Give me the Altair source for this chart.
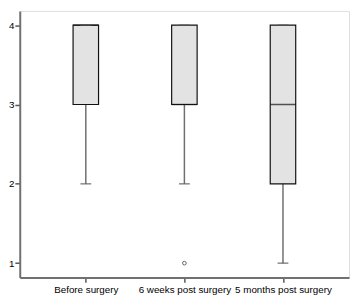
import altair as alt
import pandas as pd

categories = ["Before surgery", "6 weeks post surgery", "5 months post surgery"]
q1 = [3, 3, 2]
median = [4, 3, 3]
q3 = [4, 4, 4]
whisker_low = [2, 2, 1]
whisker_high = [4, 4, 4]
outlier_cat = ["6 weeks post surgery"]
outlier_val = [1]

df = pd.DataFrame({"cat": categories, "q1": q1, "median": median, "q3": q3,
                   "lo": whisker_low, "hi": whisker_high})
dfo = pd.DataFrame({"cat": outlier_cat, "v": outlier_val})

FONT = "Liberation Sans"
x = alt.X("cat:N", sort=categories, title=None,
          scale=alt.Scale(type="point", padding=0.67),
          axis=alt.Axis(labelAngle=0, labelFontSize=10, labelFont=FONT, labelColor="#000",
                        tickColor="#555", tickSize=5, tickWidth=1.5, domain=True,
                        domainColor="#707070", domainWidth=2, labelPadding=2, grid=False))
yscale = alt.Scale(domain=[0.82, 4.18], nice=False, zero=False)
yaxis = alt.Axis(values=[1, 2, 3, 4], format="d", labelFontSize=10, labelFont=FONT,
                 labelColor="#000", tickColor="#555", tickSize=5, tickWidth=1.5,
                 domainColor="#707070", domainWidth=2, labelPadding=1, grid=False)

base = alt.Chart(df).encode(x=x)

whisk = base.mark_rule(color="#6e6e6e", strokeWidth=1.5).encode(
    y=alt.Y("lo:Q", scale=yscale, axis=yaxis, title=None), y2="hi:Q")
box = base.mark_bar(size=26, fill="#e3e3e3", stroke="#111", strokeWidth=1.2).encode(
    y=alt.Y("q1:Q", scale=yscale), y2="q3:Q")
med = base.mark_tick(color="#111", size=26, thickness=1.5).encode(y=alt.Y("median:Q", scale=yscale))
cap_lo = base.mark_tick(color="#555", size=11, thickness=1.5).encode(y=alt.Y("lo:Q", scale=yscale))
cap_hi = base.mark_tick(color="#555", size=11, thickness=1.5).encode(y=alt.Y("hi:Q", scale=yscale))
out = alt.Chart(dfo).mark_point(shape="circle", size=14, color="#222", strokeWidth=1, filled=False).encode(
    x=alt.X("cat:N", sort=categories, scale=alt.Scale(type="point", padding=0.67)),
    y=alt.Y("v:Q", scale=yscale))

chart = alt.layer(whisk, box, med, cap_lo, cap_hi, out).properties(
    width=336, height=272, padding={"left": 0, "top": 0, "right": 1, "bottom": 0}
).configure_view(stroke="#000", strokeWidth=1).configure(background="white")

chart.save("out.html", embed_options={"renderer": "svg", "actions": False})
